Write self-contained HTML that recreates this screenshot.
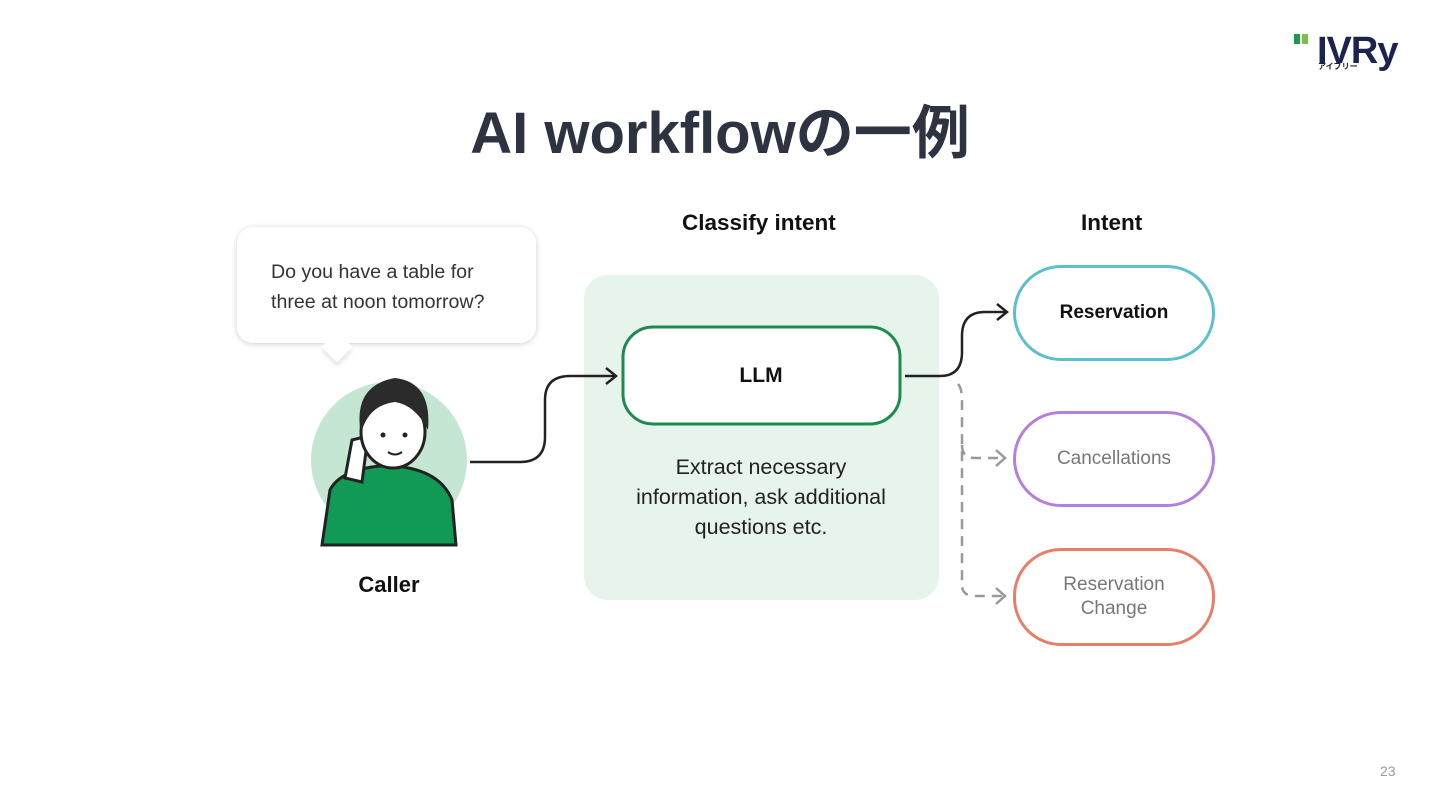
<!DOCTYPE html>
<html><head><meta charset="utf-8"><style>
body{margin:0;width:1440px;height:810px;background:#fff;position:relative;overflow:hidden;font-family:"Liberation Sans","Noto Sans CJK JP",sans-serif;}
.a{position:absolute}
.pill{position:absolute;left:1013px;width:196px;border-radius:48px;background:#fff;display:flex;align-items:center;justify-content:center;text-align:center;font-size:19px;}
</style></head><body>
<div class="a" style="left:0;top:86px;width:1440px;text-align:center;font-size:58px;font-weight:bold;color:#2d3340;">AI workflowの一例</div>
<div class="a" style="left:1294px;top:34px;width:6px;height:10px;background:#1e9a4f"></div>
<div class="a" style="left:1302px;top:34px;width:6px;height:10px;background:#7cc242"></div>
<div class="a" style="left:1317px;top:32px;font-size:38px;font-weight:900;color:#1d2350;letter-spacing:-1px;line-height:38px">IVRy</div>
<div class="a" style="left:1318px;top:61px;font-size:8px;font-weight:bold;color:#222">アイブリー</div>
<div class="a" style="left:682px;top:210px;font-size:22.5px;font-weight:bold;color:#111">Classify intent</div>
<div class="a" style="left:1081px;top:210px;font-size:22.5px;font-weight:bold;color:#111">Intent</div>
<div class="a" style="left:237px;top:227px;width:299px;height:116px;background:#fff;border-radius:16px;box-shadow:0 1px 6px rgba(0,0,0,.2)"></div>
<div class="a" style="left:326px;top:336px;width:22px;height:22px;background:#fff;transform:rotate(45deg);box-shadow:3px 3px 4px rgba(0,0,0,.1)"></div>
<div class="a" style="left:237px;top:227px;width:299px;height:116px;border-radius:16px;background:#fff"></div>
<div class="a" style="left:271px;top:257px;font-size:19.6px;line-height:30px;color:#333">Do you have a table for<br>three at noon tomorrow?</div>
<svg class="a" style="left:0;top:0" width="1440" height="810">
<circle cx="389" cy="460" r="78" fill="#c4e6d3"/>
<path d="M322 545 L330 490 Q340 470 380 466 L395 466 Q440 470 452 500 L456 545 Z" fill="#109a55" stroke="#222" stroke-width="3"/>
<path d="M345 478 L352 440 L368 436 L362 482 Z" fill="#fff" stroke="#222" stroke-width="3"/>
<ellipse cx="393" cy="432" rx="32" ry="36" fill="#fff" stroke="#222" stroke-width="3"/>
<path d="M360 428 Q355 385 395 378 Q432 382 428 430 Q415 405 395 402 Q370 405 362 430 Z" fill="#2b2b2b"/>
<circle cx="383" cy="435" r="2.5" fill="#222"/><circle cx="405" cy="435" r="2.5" fill="#222"/>
<path d="M388 452 Q395 457 402 452" stroke="#222" stroke-width="2" fill="none"/>
<rect x="584" y="275" width="355" height="325" rx="24" fill="#e6f4ec"/>
<path d="M470 462 L520 462 Q545 462 545 437 L545 400 Q545 376 570 376 L615 376" stroke="#222" stroke-width="2.5" fill="none"/>
<path d="M606 368 L616 376 L606 384" stroke="#222" stroke-width="2.5" fill="none"/>
<rect x="623" y="327" width="277" height="97" rx="30" fill="#fff" stroke="#1e8a4f" stroke-width="3"/>
<path d="M905 376 L940 376 Q962 376 962 352 L962 336 Q962 312 985 312 L1006 312" stroke="#222" stroke-width="2.5" fill="none"/>
<path d="M997 304 L1007 312 L997 320" stroke="#222" stroke-width="2.5" fill="none"/>
<path d="M958 384 Q962 388 962 400 L962 585 Q962 596 975 596 L1004 596 M962 445 Q962 458 975 458 L1004 458" stroke="#999" stroke-width="2.5" fill="none" stroke-dasharray="10 7"/>
<path d="M996 450 L1005 458 L996 466 M996 588 L1005 596 L996 604" stroke="#999" stroke-width="2.5" fill="none"/>
<text x="389" y="592" text-anchor="middle" font-size="22" font-weight="bold" fill="#111" font-family="Liberation Sans,sans-serif">Caller</text>
<text x="761" y="382" text-anchor="middle" font-size="21" font-weight="bold" fill="#111" font-family="Liberation Sans,sans-serif">LLM</text>
<text text-anchor="middle" font-size="21.5" fill="#222" font-family="Liberation Sans,sans-serif"><tspan x="761" y="474">Extract necessary</tspan><tspan x="761" y="504">information, ask additional</tspan><tspan x="761" y="534">questions etc.</tspan></text>
</svg>
<div class="pill" style="top:265px;height:90px;border:3px solid #5bbfcc;font-weight:bold;color:#111">Reservation</div>
<div class="pill" style="top:411px;height:90px;border:3px solid #b57fdc;color:#777">Cancellations</div>
<div class="pill" style="top:548px;height:92px;border:3px solid #e87e6a;color:#777;line-height:24px">Reservation<br>Change</div>
<div class="a" style="left:1380px;top:763px;font-size:14px;color:#999">23</div>
</body></html>
